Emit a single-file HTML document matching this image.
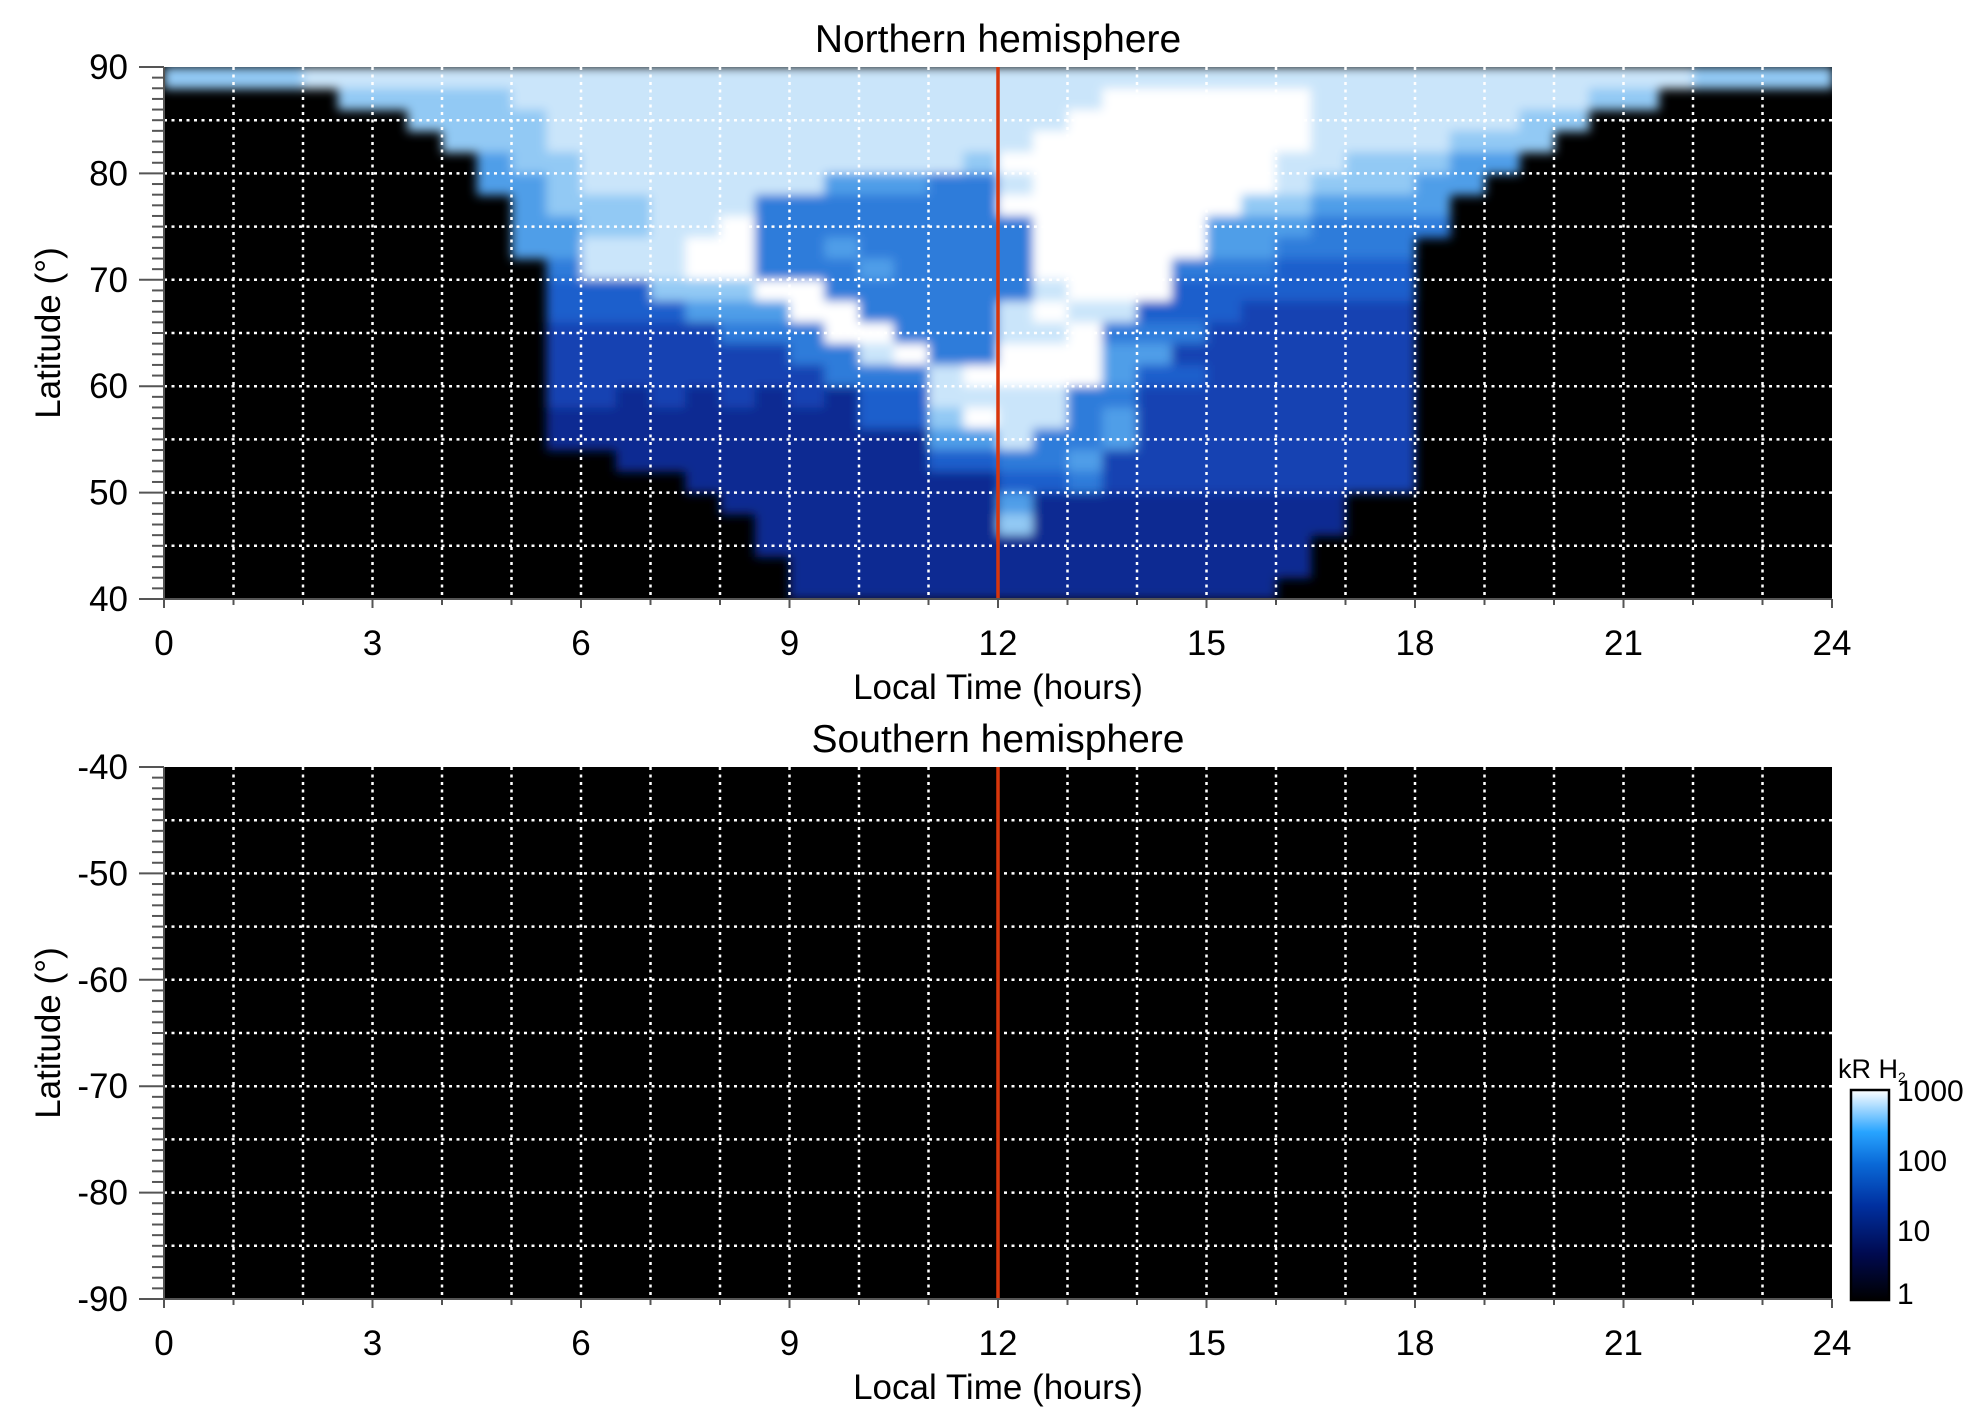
<!DOCTYPE html>
<html><head><meta charset="utf-8"><style>
html,body{margin:0;padding:0;background:#fff;}
svg{display:block;font-family:"Liberation Sans",Arial,sans-serif;}
</style></head><body>
<svg id="chart" width="1983" height="1423" viewBox="0 0 1983 1423">
<defs>
<linearGradient id="cbgrad" x1="0" y1="1" x2="0" y2="0">
<stop offset="0" stop-color="#000000"/>
<stop offset="0.22" stop-color="#000a50"/>
<stop offset="0.45" stop-color="#0030a0"/>
<stop offset="0.65" stop-color="#0a6ad8"/>
<stop offset="0.8" stop-color="#28a4ff"/>
<stop offset="1" stop-color="#ffffff"/>
</linearGradient>
<filter id="soft" x="-5%" y="-5%" width="110%" height="110%"><feGaussianBlur stdDeviation="5"/></filter>
<clipPath id="clipN"><rect x="164" y="67" width="1668" height="532"/></clipPath>
</defs>
<g id="north"></g>
<g id="south"></g>
<g id="cbar"></g>
</svg>
<script>
// ---- data ----
const hourTicks = [0,3,6,9,12,15,18,21,24];
const northLatTicks = [90,80,70,60,50,40];
const southLatTicks = [-40,-50,-60,-70,-80,-90];
const cbTicks = [1,10,100,1000];
const cbLabels = ["1","10","100","1000"];
const noonHour = 12;
// northern heatmap: rows 90..88 down to 42..40 (2 deg each); each row starts at a half-hour column index
const northStart = [0,5,7,8,9,9,10,10,10,11,11,11,11,11,11,11,11,11,13,15,16,17,17,18,18];
const northRows = [
"777788888888888888888888888888888888888888887777",
"77777888888888888888889999998888888877",
"7777888888888888888999999988888877",
"77788888888888888999999998888777",
"677888888888887999999998877766",
"66788888886665589999999877766",
"677788855555559999999776666",
"667788955555555999996665555",
"66888995565555599999665555",
"5888995556555599995554444",
"4447779955555589994444444",
"4444666995555898844433333",
"3333355599555889555333333",
"3333333558955999663333333",
"3333333355589999644333333",
"3323232324488885533333333",
"2222222224479885633333333",
"2222222222266855633333333",
"22222222244556333333333",
"222222222445333333333",
"222222226222222222",
"22222227222222222",
"2222222222222222",
"222222222222222",
"22222222222222"
];
const southStart = [];
const southRows = [];
// ---- colour scale ----
const levelColors = ["#000820","#001060","#0c2c92","#1642b2","#1f5ecc","#2f7cda","#4f9ee8","#92c9f4","#cae5fa","#ffffff"];

// ---- layout ----
const X0=164, X1=1832;
const panels=[
 {id:'north', top:67, bottom:599, latTop:90, latBot:40, ticks:northLatTicks, title:'Northern hemisphere', rows:northRows, start:northStart, clip:'url(#clipN)'},
 {id:'south', top:767, bottom:1299, latTop:-40, latBot:-90, ticks:southLatTicks, title:'Southern hemisphere', rows:southRows, start:southStart, clip:''}
];
const NS='http://www.w3.org/2000/svg';
function mk(tag, attrs, parent){const e=document.createElementNS(NS,tag);for(const k in attrs)e.setAttribute(k,attrs[k]);parent.appendChild(e);return e;}
function xScale(h){return X0+(X1-X0)*h/24;}

panels.forEach(p=>{
  const g=document.getElementById(p.id);
  const yScale=lat=>p.top+(p.bottom-p.top)*(p.latTop-lat)/(p.latTop-p.latBot);
  const bg=mk('rect',{x:X0,y:p.top,width:X1-X0,height:p.bottom-p.top,fill:'#000'},g);
  
  
  const cg=mk('g',{},g);
  if(p.clip) cg.setAttribute('clip-path',p.clip);
  
  
  const hg=mk('g',{filter:'url(#soft)'},cg);
  const nR=p.rows.length;
  p.rows.forEach((row,ri)=>{
    const lat1=p.latTop-(p.latTop-p.latBot)*ri/nR, lat2=p.latTop-(p.latTop-p.latBot)*(ri+1)/nR;
    const s=p.start[ri]||0;
    for(let k=0;k<row.length;k++){
      const c=s+k; if(c>=48)break;
      const ch=row[k];
      const x=xScale(c*0.5), w=xScale(c*0.5+0.5)-x;
      const y=yScale(lat1), h=yScale(lat2)-y;
      const cell=mk('rect',{x:x.toFixed(1),y:y.toFixed(1),width:(w+0.6).toFixed(1),height:(h+0.6).toFixed(1),fill:levelColors[+ch]},hg);
      
      
    }
  });
  for(let h=1;h<24;h++){
    const l=mk('line',{x1:xScale(h),x2:xScale(h),y1:p.top,y2:p.bottom,stroke:'#fff','stroke-width':2.5,'stroke-dasharray':'3 4.5'},g);
    
    
  }
  for(let lat=p.latBot+5;lat<p.latTop;lat+=5){
    const l=mk('line',{x1:X0,x2:X1,y1:yScale(lat),y2:yScale(lat),stroke:'#fff','stroke-width':2.5,'stroke-dasharray':'3 4.5'},g);
    
    
  }
  const red=mk('line',{x1:xScale(noonHour),x2:xScale(noonHour),y1:p.top,y2:p.bottom,stroke:'#d8360c','stroke-width':3.5},g);
  
  
  const ax=mk('path',{d:`M${X0},${p.top}V${p.bottom}H${X1}`,stroke:'#555','stroke-width':2,fill:'none'},g);
  
  
  for(let lat=p.latBot;lat<=p.latTop;lat++){
    const major=(lat%10===0);
    const t=mk('line',{x1:X0-(major?25:12),x2:X0,y1:yScale(lat),y2:yScale(lat),stroke:'#555','stroke-width':2},g);
    
    
  }
  p.ticks.forEach(v=>{
    const t=mk('text',{x:X0-36,y:yScale(v)+12,'font-size':35,'text-anchor':'end',fill:'#000'},g);
    t.textContent=String(v);
    
    
  });
  for(let h=0;h<=24;h++){
    const t=mk('line',{x1:xScale(h),x2:xScale(h),y1:p.bottom,y2:p.bottom+(h%3===0?9:6),stroke:'#555','stroke-width':2},g);
    
    
  }
  hourTicks.forEach(h=>{
    const t=mk('text',{x:xScale(h),y:p.bottom+56,'font-size':35,'text-anchor':'middle',fill:'#000'},g);
    t.textContent=String(h);
    
    
  });
  const xt=mk('text',{x:(X0+X1)/2,y:p.bottom+100,'font-size':35,'text-anchor':'middle',fill:'#000'},g);
  xt.textContent='Local Time (hours)';
  
  
  const yc=(p.top+p.bottom)/2;
  const yt=mk('text',{x:0,y:0,'font-size':35,'text-anchor':'middle',fill:'#000',transform:`translate(60,${yc}) rotate(-90)`},g);
  yt.textContent='Latitude (°)';
  
  
  const tt=mk('text',{x:(X0+X1)/2,y:p.top-15,'font-size':39,'text-anchor':'middle',fill:'#000'},g);
  tt.textContent=p.title;
  
  
});

(function(){
  const g=document.getElementById('cbar');
  const cx=1851,cw=38,ctop=1090,cbot=1300;
  const cy=v=>cbot-(cbot-ctop)*Math.log10(v)/3;
  const r=mk('rect',{x:cx,y:ctop,width:cw,height:cbot-ctop,fill:'url(#cbgrad)',stroke:'#000','stroke-width':2.5},g);
  
  
  cbTicks.forEach((v,i)=>{
    const t=mk('text',{x:cx+cw+8,y:Math.min(cy(v)+11,cbot+4),'font-size':30,fill:'#000'},g);
    t.textContent=cbLabels[i];
    
    
  });
  const u=mk('text',{x:1838,y:1078,'font-size':27,fill:'#000'},g);
  u.innerHTML='kR H<tspan font-size="14" dy="4">2</tspan>';
  
  
})();
</script>
</body></html>
